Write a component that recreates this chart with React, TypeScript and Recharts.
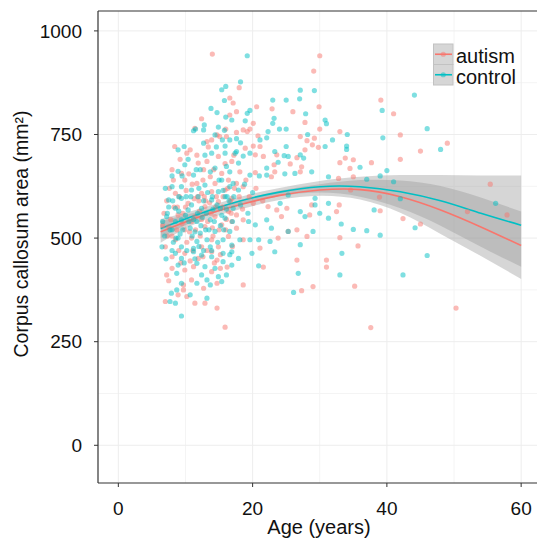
import React from 'react';
import { ComposedChart, XAxis, YAxis, Scatter, Area, Line, CartesianGrid } from 'recharts';

const AUTISM = '#F8766D';
const CONTROL = '#00BFC4';
const FONT = '"Liberation Sans", Arial, Helvetica, sans-serif';

const xTicks = [0, 20, 40, 60];
const yTicks = [0, 250, 500, 750, 1000];
const xMinor = [10, 30, 50];
const yMinor = [125, 375, 625, 875];
const seriesNames = ['autism', 'control'];

// [age, corpus callosum area]
const autismPoints: [number, number][] = [
  [39.1,833],[41.0,800],[42.0,749],[33.0,757],[49.0,729],[45.0,710],[33.8,693],[35.0,689],[33.0,682],[37.7,682],[42.0,690],[34.5,668],[35.0,648],[32.8,644],[55.4,630],[34.6,616],[38.9,599],[32.9,580],[32.5,564],[39.0,566],[52.0,564],[57.9,556],[42.4,547],[45.0,534],[33.0,501],[35.7,481],[35.2,384],[50.3,331],[37.6,284],
  [30.0,940],[29.1,903],[18.0,863],[29.9,817],[20.6,817],[22.9,812],[26.0,805],[17.6,805],[20.1,777],[27.8,779],[19.6,763],[18.6,761],[19.2,757],[30.0,763],[17.6,755],[20.8,747],[27.1,745],[29.2,741],[28.1,735],[20.1,722],[21.1,721],[18.9,717],[28.9,725],[29.8,719],[27.8,713],[20.4,701],[21.6,697],[23.6,701],[26.6,694],[23.2,677],[25.6,679],[27.3,672],
  [18.1,660],[20.4,658],[23.3,660],[27.1,660],[17.6,632],[18.6,624],[20.1,584],[22.3,576],[23.6,568],[25.1,572],[28.8,580],[17.6,556],[18.6,544],[17.6,524],[24.3,552],[28.5,556],[26.6,520],[25.3,516],[28.1,504],[23.8,500],[18.6,496],[21.1,476],[26.6,447],[31.0,447],[31.0,430],[21.6,430],[18.6,387],[29.0,383],[27.3,373],[22.8,648],
  [14.0,944],[16.6,838],[17.1,826],[12.4,788],[16.6,797],[11.4,765],[14.7,749],[16.0,763],[8.4,721],[13.2,733],[13.9,737],[16.1,745],
  [10.2,705],[10.7,713],[11.9,681],[13.2,685],[14.9,697],[16.9,685],[9.4,656],[12.7,665],[13.7,648],[15.4,656],[8.0,665],[9.9,640],[11.7,632],[14.4,632],[16.4,640],[8.5,608],[12.4,608],[13.9,612],[15.9,616],[10.4,584],[12.9,576],[14.9,588],[16.9,596],[8.9,556],[11.4,552],[14.4,552],[16.4,564],[7.5,528],[9.9,520],[12.9,528],[15.4,532],[16.9,540],[8.5,496],[10.9,500],[13.9,496],[16.4,504],[7.0,479],[12.4,479],[14.9,479],
  [8.0,455],[9.9,463],[11.9,451],[13.9,467],[14.7,447],[8.0,427],[9.9,423],[11.2,431],[13.9,419],[15.2,427],[7.2,411],[7.5,397],[9.7,387],[9.7,375],[10.9,399],[12.7,379],[14.7,391],[8.9,363],[10.2,359],[11.4,343],[12.9,343],[7.0,347],[14.7,331],[15.9,285],
  [7.2,590],[7.8,545],[8.2,640],[8.8,575],[9.2,690],[9.6,560],[10.1,615],[10.5,655],[10.9,540],[11.3,595],[11.7,700],[12.1,565],[12.6,640],[13.0,590],[13.4,720],[13.8,560],[14.2,665],[14.6,600],[15.1,745],[15.5,575],[15.9,680],[16.3,620],[16.8,560],[17.2,700],[8.0,505],[9.0,470],[10.2,490],[11.1,470],[12.2,505],[13.2,470],[14.1,505],[15.2,460],[16.0,520],[17.0,480],[18.0,600],[18.5,570],[19.0,640],[19.5,600],[20.5,620],[21.5,590],
  [6.8,560],[7.3,505],[7.6,620],[8.3,575],[8.7,520],[9.1,600],[9.5,535],[10.0,575],[10.6,515],[11.0,630],[11.5,520],[12.0,590],[12.4,545],[12.8,600],[13.3,540],[13.6,585],[14.0,525],[14.5,575],[15.0,520],[15.6,600],[16.1,545],[16.7,590],[17.3,620],[6.6,530],[9.3,440],[10.7,445],[12.6,455],[14.3,440],[16.2,430],[11.8,600],
];

const controlPoints: [number, number][] = [
  [44.1,845],[39.3,808],[46.0,764],[34.1,750],[39.4,742],[48.0,714],[34.0,722],[34.0,714],[36.0,671],[40.0,663],[39.0,650],[37.0,642],[41.0,636],[42.0,595],[56.2,584],[38.1,568],[33.2,534],[44.2,525],[35.0,521],[37.0,518],[39.0,507],[33.3,463],[46.0,458],[33.0,411],[42.4,411],
  [19.2,940],[18.2,877],[27.1,857],[29.2,856],[27.0,836],[23.0,833],[25.0,833],[19.6,808],[19.2,801],[18.9,783],[23.2,789],[27.9,800],[30.8,785],[31.0,776],[23.0,777],[24.0,763],[25.0,763],[22.3,757],[28.2,750],[22.1,742],[21.1,737],[31.9,737],[18.2,730],[25.0,721],[30.8,721],[17.6,709],[18.6,698],[19.6,705],[24.7,699],[25.3,697],[27.1,701],[27.6,693],[23.3,709],[17.9,681],[23.8,683],[22.1,669],
  [19.6,652],[22.1,652],[24.8,655],[26.3,656],[28.8,660],[17.9,616],[24.1,584],[25.3,604],[29.3,596],[29.3,580],[31.3,584],[27.1,564],[27.8,552],[30.0,560],[31.3,548],[19.4,540],[20.4,532],[22.1,544],[22.8,524],[25.3,516],[29.0,516],[18.1,496],[19.6,496],[20.9,496],[22.6,492],[27.1,484],[19.9,463],[23.3,467],[17.9,451],[20.9,433],[26.8,415],[26.1,369],[31.3,648],
  [16.0,866],[15.4,858],[15.8,832],[13.8,813],[14.7,803],[16.0,792],[12.8,773],[11.5,763],[11.2,759],[14.9,768],[16.9,785],[12.7,761],[14.4,749],[15.5,737],[12.7,729],[9.8,721],[16.6,737],[15.9,722],
  [8.9,713],[13.9,705],[15.9,705],[17.4,705],[12.2,665],[14.4,669],[16.1,673],[9.9,677],[8.9,661],[11.2,652],[15.4,640],[17.1,632],[8.0,624],[9.4,624],[10.9,616],[12.9,628],[14.9,612],[16.6,624],[7.5,592],[9.4,596],[11.9,600],[13.9,592],[15.9,600],[8.5,572],[10.4,568],[12.4,572],[15.2,572],[17.1,572],[7.2,552],[9.4,544],[11.7,540],[13.7,544],[15.9,548],[8.0,520],[10.7,524],[12.2,512],[14.4,516],[16.6,516],[8.9,500],[11.7,492],[13.2,496],[15.6,496],[6.5,479],[9.4,479],[11.2,475],[13.7,479],[16.9,483],
  [8.5,463],[9.4,451],[11.2,467],[12.4,459],[13.9,455],[15.6,463],[16.9,467],[8.9,435],[11.7,439],[12.9,431],[14.4,427],[15.6,443],[8.7,415],[12.4,411],[13.2,399],[14.9,407],[16.1,411],[16.9,435],[9.4,391],[11.7,391],[13.7,387],[15.4,395],[7.9,367],[8.7,375],[10.7,363],[13.2,355],[7.7,347],[8.5,343],[9.4,312],
  [7.0,620],[7.5,575],[8.0,650],[8.5,540],[9.0,600],[9.5,650],[10.0,555],[10.4,690],[10.8,600],[11.2,545],[11.6,665],[12.0,620],[12.5,550],[12.9,700],[13.3,610],[13.7,660],[14.1,570],[14.6,720],[15.0,640],[15.4,555],[15.8,760],[16.2,600],[16.6,660],[17.0,540],[17.6,740],[8.2,490],[9.2,510],[10.2,470],[11.0,505],[12.0,480],[13.0,520],[13.9,470],[14.8,490],[15.7,520],[16.6,460],[18.2,580],[18.8,630],[19.3,560],[20.0,610],[21.0,650],
  [6.6,540],[6.9,505],[7.3,560],[7.7,520],[8.1,590],[8.6,500],[9.0,565],[9.6,520],[10.1,600],[10.5,540],[10.9,580],[11.4,515],[11.8,560],[12.3,530],[12.7,590],[13.1,560],[13.5,520],[14.0,600],[14.3,540],[14.7,580],[15.2,530],[15.6,615],[16.1,570],[16.5,590],[17.2,600],[7.1,450],[8.0,470],[9.8,440],[11.4,450],[12.7,470],
];

// smooth fits and confidence bands
const fitAges = [6.3, 12, 18, 24, 30, 36, 42, 48, 54, 60];
const autismFit = [515, 551, 580, 603, 616, 617, 600, 568, 527, 482];
const autismLo = [489, 538, 569, 592, 602, 593, 561, 510, 457, 401];
const autismHi = [541, 564, 591, 614, 630, 640, 639, 626, 598, 564];
const controlFit = [523, 558, 589, 611, 624, 624, 612, 590, 560, 531];
const controlLo = [500, 546, 579, 601, 610, 600, 572, 530, 479, 431];
const controlHi = [546, 570, 599, 621, 638, 648, 652, 652, 651, 651];

const toPts = (arr: [number, number][]) => arr.map(([age, val]) => ({ age, val }));
const autismData = toPts(autismPoints);
const controlData = toPts(controlPoints);
const autismSmooth = fitAges.map((age, i) => ({ age, fit: autismFit[i], band: [autismLo[i], autismHi[i]] }));
const controlSmooth = fitAges.map((age, i) => ({ age, fit: controlFit[i], band: [controlLo[i], controlHi[i]] }));

const dot = (color: string) => (p: any) =>
  p.cx == null ? <g /> : <circle cx={p.cx} cy={p.cy} r={2.6} fill={color} fillOpacity={0.5} stroke="none" />;

const tickStyle = { fill: '#111', fontSize: 19, fontFamily: FONT };

export default function App() {
  return (
    <div style={{ position: 'absolute', left: 0, top: 0, width: 537, height: 542, background: '#fff', overflow: 'hidden' }}>
      <ComposedChart width={537} height={542} margin={{ top: 11, right: 0, bottom: 0, left: 0 }}>
        <CartesianGrid stroke="#F4F4F4" strokeWidth={1} horizontalValues={yMinor} verticalValues={xMinor} />
        <CartesianGrid stroke="#EDEDED" strokeWidth={1} horizontalValues={yTicks} verticalValues={xTicks} />
        <XAxis
          type="number"
          dataKey="age"
          domain={[-3.03, 62.36]}
          allowDataOverflow
          ticks={xTicks}
          tickSize={4}
          tickMargin={15}
          height={59}
          tick={tickStyle}
          stroke="#333"
          axisLine={{ stroke: '#333', strokeWidth: 1.2 }}
          tickLine={{ stroke: '#333' }}
        />
        <YAxis
          type="number"
          domain={[-91, 1048]}
          allowDataOverflow
          ticks={yTicks}
          tickSize={4}
          tickMargin={12}
          width={98}
          tick={tickStyle}
          axisLine={{ stroke: '#333', strokeWidth: 1.2 }}
          tickLine={{ stroke: '#333' }}
        />
        <Scatter name="autism" data={autismData} dataKey="val" shape={dot(AUTISM)} isAnimationActive={false} />
        <Scatter name="control" data={controlData} dataKey="val" shape={dot(CONTROL)} isAnimationActive={false} />
        <Area data={autismSmooth} dataKey="band" type="natural" fill="#999999" fillOpacity={0.4} stroke="none" isAnimationActive={false} />
        <Line data={autismSmooth} dataKey="fit" type="natural" stroke={AUTISM} strokeWidth={1.6} dot={false} isAnimationActive={false} />
        <Area data={controlSmooth} dataKey="band" type="natural" fill="#999999" fillOpacity={0.4} stroke="none" isAnimationActive={false} />
        <Line data={controlSmooth} dataKey="fit" type="natural" stroke={CONTROL} strokeWidth={1.6} dot={false} isAnimationActive={false} />
      </ComposedChart>
      <svg width={537} height={542} style={{ position: 'absolute', left: 0, top: 0, pointerEvents: 'none' }}>
        <line x1={98} y1={11} x2={537} y2={11} stroke="#333" strokeWidth={1.2} />
        <text x={319} y={534} textAnchor="middle" fontSize={20} fontFamily={FONT} fill="#111">Age (years)</text>
        <text x={28} y={234} textAnchor="middle" fontSize={19.5} fontFamily={FONT} fill="#111" transform="rotate(-90 28 234)">
          Corpus callosum area (mm²)
        </text>
        {seriesNames.map((name, i) => {
          const color = i === 0 ? AUTISM : CONTROL;
          const y0 = 44 + i * 20.5;
          return (
            <g key={name}>
              <rect x={433.5} y={y0} width={19.5} height={20.5} fill="#D6D6D6" stroke="#C2C2C2" strokeWidth={1} />
              <line x1={435} y1={y0 + 10.25} x2={452} y2={y0 + 10.25} stroke={color} strokeWidth={1.6} />
              <circle cx={443.25} cy={y0 + 10.25} r={2.6} fill={color} fillOpacity={0.5} />
              <text x={456} y={y0 + 19} fontSize={20} fontFamily={FONT} fill="#111">{name}</text>
            </g>
          );
        })}
      </svg>
    </div>
  );
}
